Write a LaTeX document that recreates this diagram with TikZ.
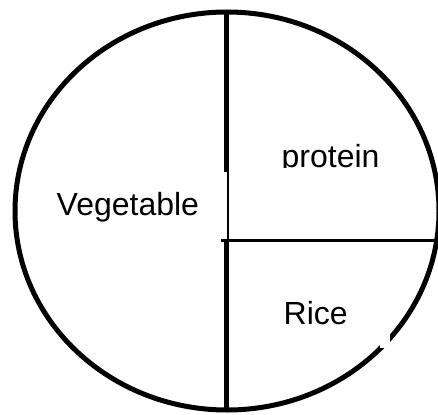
\documentclass[tikz,border=0pt]{standalone}
\usepackage{fontspec}
\setmainfont{Liberation Sans}
\tikzset{
  rim/.style={line width=5pt},
  divider/.style={line width=5pt},
  thinline/.style={line width=2.2pt},
  hline/.style={line width=3.6pt},
  label/.style={inner sep=0pt, anchor=base west, font=\fontsize{32}{38}\selectfont}
}
\begin{document}
\begin{tikzpicture}[x=1pt,y=-1pt]
\useasboundingbox (0,0) rectangle (438,414);
\clip (0,0) rectangle (438,414);
\fill[white] (0,0) rectangle (438,414);
\draw[rim] (227,211) ellipse [x radius=212, y radius=199];
\fill[white] (380,330) rectangle (390.3,348.3);
\draw[divider] (226.8,11) -- (226.8,172.3);
\draw[thinline] (228.3,172.3) -- (228.3,240.5);
\draw[hline] (221,240.5) -- (440,240.5);
\draw[divider] (226.8,240.5) -- (226.8,412);
\node[label] (veg) at (56.5,215) {Vegetable};
\node[label] (rice) at (283.5,324) {Rice};
\begin{scope}
\clip (260,120) rectangle (400,167.3);
\node[label] (prot) at (281.5,167.5) {protein};
\end{scope}
\end{tikzpicture}
\end{document}
